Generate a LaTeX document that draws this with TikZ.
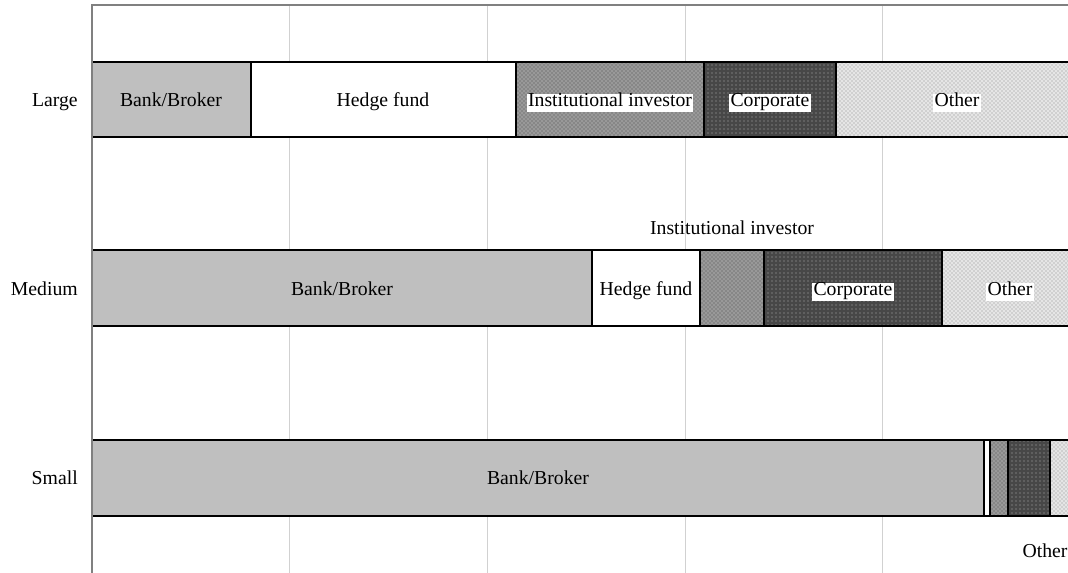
\documentclass[tikz,border=0pt]{standalone}
\usepackage{fontspec}
\setmainfont{Liberation Serif}
\usetikzlibrary{patterns}
\begin{document}
\begin{tikzpicture}[x=0.75pt,y=-0.75pt,
  font=\fontsize{14.8}{17}\selectfont,
  grid/.style={draw=black!18, line width=0.75pt},
  axis/.style={draw=black!50, line width=1.6pt},
  edge/.style={draw=black, line width=1.6pt},
  bank/.style={fill=black!25},
  hedge/.style={fill=white},
  inst/.style={fill=black!40, postaction={pattern=crosshatch dots, pattern color=black!70}},
  corp/.style={fill=black!72, postaction={pattern=dots, pattern color=white!70!black}},
  other/.style={fill=black!10, postaction={pattern=crosshatch dots, pattern color=black!45}},
  lbl/.style={inner xsep=1pt, inner ysep=1.5pt, text height=0.8em, text depth=0.28em, yshift=-2.2pt},
  boxlbl/.style={lbl, fill=white},
  plainlbl/.style={lbl},
  cat/.style={lbl, anchor=east, inner xsep=0pt}]
\useasboundingbox (0,0) rectangle (1068,573);
\clip (0,0) rectangle (1068,573);
% grid
\foreach \gx in {289,487,685,882} \draw[grid] (\gx,5) -- (\gx,573);
% Large bar
\path[bank]  (92,62) rectangle (251,137);
\path[hedge] (251,62) rectangle (516,137);
\path[inst]  (516,62) rectangle (704,137);
\path[corp]  (704,62) rectangle (836,137);
\path[other] (836,62) rectangle (1080,137);
\foreach \a/\b in {92/251,251/516,516/704,704/836,836/1080} \draw[edge] (\a,62) rectangle (\b,137);
% Medium bar
\path[bank]  (92,250) rectangle (592,326);
\path[hedge] (592,250) rectangle (700,326);
\path[inst]  (700,250) rectangle (764,326);
\path[corp]  (764,250) rectangle (942,326);
\path[other] (942,250) rectangle (1080,326);
\foreach \a/\b in {92/592,592/700,700/764,764/942,942/1080} \draw[edge] (\a,250) rectangle (\b,326);
% Small bar
\path[bank]  (92,440) rectangle (984,516);
\path[hedge] (984,440) rectangle (990,516);
\path[inst]  (990,440) rectangle (1008,516);
\path[corp]  (1008,440) rectangle (1050,516);
\path[other] (1050,440) rectangle (1080,516);
\foreach \a/\b in {92/984,984/990,990/1008,1008/1050,1050/1080} \draw[edge] (\a,440) rectangle (\b,516);
% axes
\draw[axis] (91,5) -- (1068,5);
\draw[axis] (92,5) -- (92,573);
% category labels
\node[cat] (cL) at (78,100) {Large};
\node[cat] (cM) at (78,289) {Medium};
\node[cat] (cS) at (78,478) {Small};
% Large labels
\node[plainlbl] (lb) at (171,100) {Bank/Broker};
\node[plainlbl] (lh) at (383,100) {Hedge fund};
\node[boxlbl]   (li) at (610,100) {Institutional investor};
\node[boxlbl]   (lc) at (770,100) {Corporate};
\node[boxlbl]   (lo) at (957,100) {Other};
% Medium labels
\node[plainlbl] (mb) at (342,289) {Bank/Broker};
\node[plainlbl] (mh) at (646,289) {Hedge fund};
\node[plainlbl] (mi) at (732,228) {Institutional investor};
\node[boxlbl]   (mc) at (853,289) {Corporate};
\node[boxlbl]   (mo) at (1010,289) {Other};
% Small labels
\node[plainlbl] (sb) at (538,478) {Bank/Broker};
\node[plainlbl] (so) at (1045,551) {Other};
\end{tikzpicture}
\end{document}
